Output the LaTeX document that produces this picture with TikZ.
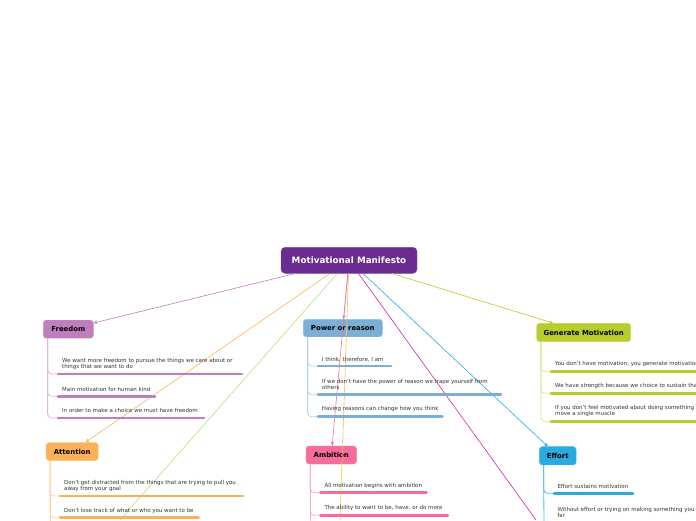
\documentclass[tikz,border=0pt]{standalone}
\usepackage{fontspec}
\setmainfont{DejaVu Sans}
\usetikzlibrary{arrows.meta}
\definecolor{cRoot}{HTML}{6A2C91}
\definecolor{cFree}{HTML}{BF7FBF}
\definecolor{cAtt}{HTML}{FBB257}
\definecolor{cGreen}{HTML}{B8E07E}
\definecolor{cPow}{HTML}{7BAFD6}
\definecolor{cAmb}{HTML}{F76C9B}
\definecolor{cYel}{HTML}{F5C242}
\definecolor{cMag}{HTML}{E01FA3}
\definecolor{cEff}{HTML}{29ABE2}
\definecolor{cGen}{HTML}{B8CC2D}
\definecolor{cTxt}{HTML}{333333}
\begin{document}
\begin{tikzpicture}[x=1pt,y=-1pt,
 topic/.style={rounded corners=3pt, inner sep=0pt, font=\fontsize{6.9}{8}\selectfont\bfseries, text=black},
 leaf/.style={anchor=west, align=left, inner sep=0pt, font=\fontsize{5.5}{6.6}\selectfont, text=cTxt},
 conn/.style={line width=0.6pt, -{Stealth[length=4pt,width=3.5pt]}},
 wire/.style={line width=0.6pt},
 bar/.style={line width=2.6pt, line cap=round},
 stem/.style={line width=0.8pt, rounded corners=4pt}]
\useasboundingbox (0,0) rectangle (696,520);
\clip (0,0) rectangle (696,520);

% topics
\node[topic, fill=cRoot, draw=cRoot!85!white, minimum width=136pt, minimum height=26pt, text=white, font=\fontsize{8.8}{10}\selectfont\bfseries, rounded corners=4pt] (root) at (349,260.3) {Motivational Manifesto};
\node[topic, fill=cFree, draw=cFree!85!white, minimum width=50pt, minimum height=18pt] (freedom) at (68.3,329.2) {Freedom};
\node[topic, fill=cAtt, draw=cAtt!85!white, minimum width=52pt, minimum height=18pt] (attention) at (72.2,451.5) {Attention};
\node[topic, fill=cPow, draw=cPow!85!white, minimum width=79pt, minimum height=17.5pt] (power) at (342.8,328) {Power or reason};
\node[topic, fill=cAmb, draw=cAmb!85!white, minimum width=50.5pt, minimum height=18pt] (ambition) at (331.3,455) {Ambition};
\node[topic, fill=cGen, draw=cGen!85!white, minimum width=94pt, minimum height=18.4pt] (generate) at (583.7,332.5) {Generate Motivation};
\node[topic, fill=cEff, draw=cEff!85!white, minimum width=36.7pt, minimum height=18.3pt] (effort) at (557.7,455.8) {Effort};

% off-page ends
\coordinate (greenEnd) at (120,520);
\coordinate (yelEnd) at (340,520);
\coordinate (magEnd) at (536,520);

% connectors from root
\draw[conn, cFree] (root) -- (freedom);
\draw[conn, cAtt] (root) -- (attention);
\draw[wire, cGreen] (root) -- (greenEnd);
\draw[conn, cPow] (root) -- (power);
\draw[conn, cAmb] (root) -- (ambition);
\draw[wire, cYel] (root) -- (yelEnd);
\draw[wire, cMag] (root) -- (magEnd);
\draw[conn, cEff] (root) -- (effort);
\draw[conn, cGen] (root) -- (generate);

% Freedom leaves
\coordinate (f1) at (58,374);
\coordinate (f2) at (58,396.3);
\coordinate (f3) at (58,418);
\foreach \c in {f1,f2,f3} \draw[stem, cFree!55] ([xshift=4.5pt]freedom.south west) |- (\c);
\draw[bar, cFree] (f1) -- (242,374);
\draw[bar, cFree] (f2) -- (155,396.3);
\draw[bar, cFree] (f3) -- (204,418);
\node[leaf] (ft1) at (62,364) {We want more freedom to pursue the things we care about or\\things that we want to do};
\node[leaf] (ft2) at (62,389) {Main motivation for human kind};
\node[leaf] (ft3) at (62,410.7) {In order to make a choice we must have freedom};

% Attention leaves
\coordinate (a1) at (60,496);
\coordinate (a2) at (60,517.7);
\coordinate (aEnd) at (50,530);
\foreach \c in {a1,a2} \draw[stem, cAtt!55] ([xshift=4pt]attention.south west) |- (\c);
\draw[stem, cAtt!55] ([xshift=4pt]attention.south west) -- (aEnd);
\draw[bar, cAtt] (a1) -- (243,496);
\draw[bar, cAtt] (a2) -- (198.5,517.7);
\node[leaf] (at1) at (64,485.9) {Don't get distracted from the things that are trying to pull you\\away from your goal};
\node[leaf] (at2) at (64,511) {Don't lose track of what or who you want to be};

% Power leaves
\coordinate (p1) at (318,366);
\coordinate (p2) at (318,394.7);
\coordinate (p3) at (318,416.7);
\foreach \c in {p1,p2,p3} \draw[stem, cPow!55] ([xshift=4.5pt]power.south west) |- (\c);
\draw[bar, cPow] (p1) -- (391,366);
\draw[bar, cPow] (p2) -- (501,394.7);
\draw[bar, cPow] (p3) -- (442.5,416.7);
\node[leaf] (pt1) at (321.7,359.3) {I think, therefore, I am};
\node[leaf] (pt2) at (321.7,384.5) {If we don't have the power of reason we trape yourself from\\others};
\node[leaf] (pt3) at (321.7,409.3) {Having reasons can change how you think};

% Ambition leaves
\coordinate (m1) at (320.5,492.7);
\coordinate (m2) at (320.5,515.3);
\coordinate (mEnd) at (310.7,530);
\foreach \c in {m1,m2} \draw[stem, cAmb!55] ([xshift=4.5pt]ambition.south west) |- (\c);
\draw[stem, cAmb!55] ([xshift=4.5pt]ambition.south west) -- (mEnd);
\draw[bar, cAmb] (m1) -- (426.5,492.7);
\draw[bar, cAmb] (m2) -- (448,515.3);
\node[leaf] (mt1) at (324.3,485.7) {All motivation begins with ambition};
\node[leaf] (mt2) at (324.3,507.7) {The ability to want to be, have, or do more};

% Generate leaves
\coordinate (g1) at (551,371.7);
\coordinate (g2) at (551,393.3);
\coordinate (g3) at (551,421.7);
\foreach \c in {g1,g2,g3} \draw[stem, cGen!55] ([xshift=4.5pt]generate.south west) |- (\c);
\draw[bar, cGen] (g1) -- (720,371.7);
\draw[bar, cGen] (g2) -- (720,393.3);
\draw[bar, cGen] (g3) -- (720,421.7);
\node[leaf] (gt1) at (555,364) {You don't have motivation, you generate motivation};
\node[leaf] (gt2) at (555,386) {We have strength because we choice to sustain that};
\node[leaf] (gt3) at (555,411) {If you don't feel motivated about doing something\\move a single muscle};

% Effort leaves
\coordinate (e1) at (554,493.3);
\coordinate (eEnd) at (544,530);
\draw[stem, cEff!80] ([xshift=4.5pt]effort.south west) |- (e1);
\draw[stem, cEff!80] ([xshift=4.5pt]effort.south west) -- (eEnd);
\draw[bar, cEff] (e1) -- (633,493.3);
\node[leaf] (et1) at (557.3,486.7) {Effort sustains motivation};
\node[leaf] (et2) at (557.3,512.3) {Without effort or trying on making something you\\far};
\end{tikzpicture}
\end{document}
